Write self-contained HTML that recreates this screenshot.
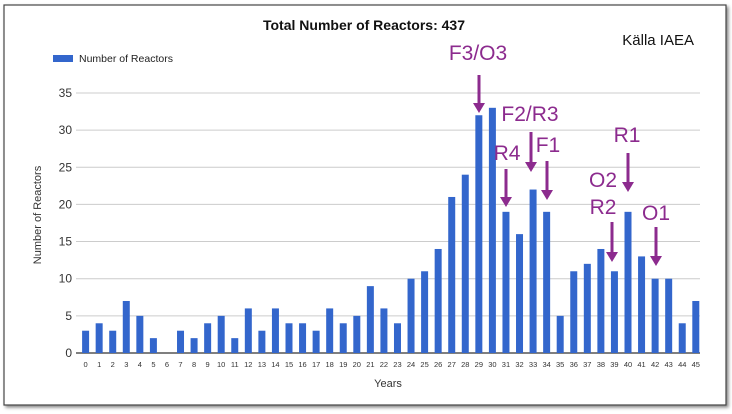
<!DOCTYPE html>
<html><head><meta charset="utf-8"><style>
html,body{margin:0;padding:0;background:#fff;width:732px;height:414px;overflow:hidden}
svg{font-family:"Liberation Sans",Arial,sans-serif}
</style></head><body>
<svg id="c" width="732" height="414">
<defs><filter id="sh" x="-5%" y="-5%" width="110%" height="110%"><feDropShadow dx="2" dy="2" stdDeviation="1.5" flood-color="#888"/></filter></defs>
<rect x="4" y="5" width="722" height="400" fill="#fff" stroke="#444" stroke-width="1.2" filter="url(#sh)"/>
<text x="364" y="30" text-anchor="middle" font-size="14" font-weight="bold" fill="#111">Total Number of Reactors: 437</text>
<rect x="53" y="55" width="20" height="7" fill="#3366cc"/>
<text x="79" y="62" font-size="10.5" fill="#222">Number of Reactors</text>
<text x="694" y="45" text-anchor="end" font-size="15" fill="#111">Källa IAEA</text>
<g id="grid"></g><g id="bars"></g><g id="xt"></g><g id="ann"></g>
<text x="388" y="387" text-anchor="middle" font-size="11" fill="#333">Years</text>
<text transform="translate(41,215) rotate(-90)" text-anchor="middle" font-size="11" fill="#333">Number of Reactors</text>
</svg>
<script>
const years=[0,1,2,3,4,5,6,7,8,9,10,11,12,13,14,15,16,17,18,19,20,21,22,23,24,25,26,27,28,29,30,31,32,33,34,35,36,37,38,39,40,41,42,43,44,45];
const reactors=[3,4,3,7,5,2,0,3,2,4,5,2,6,3,6,4,4,3,6,4,5,9,6,4,10,11,14,21,24,32,33,19,16,22,19,5,11,12,14,11,19,13,10,10,4,7];
const yTicks=[0,5,10,15,20,25,30,35];
const annLabels=["F3/O3","F2/R3","R4","F1","R1","O2","R2","O1"];
const annYears=[29,33,31,34,40,39,39,42];
const NS="http://www.w3.org/2000/svg";
const y0=353,pu=7.43,x0=85.6,step=13.56,bw=7;
const ys=v=>y0-v*pu, xs=i=>x0+i*step;
function mk(t,a,p){const e=document.createElementNS(NS,t);for(const k in a)e.setAttribute(k,a[k]);document.getElementById(p).appendChild(e);return e;}
yTicks.forEach(t=>{
  const l=mk('line',{x1:76,x2:700,y1:ys(t),y2:ys(t),stroke:t===0?'#333':'#ccc','stroke-width':t===0?1.2:1},'grid');
  
  
  const tx=mk('text',{x:72,y:ys(t)+4,'text-anchor':'end','font-size':12,fill:'#333'},'grid');tx.textContent=t;
  
  
});
reactors.forEach((v,i)=>{
  const r=mk('rect',{x:xs(i)-bw/2,y:ys(v),width:bw,height:v*pu,fill:'#3366cc'},'bars');
  
  
  const t=mk('text',{x:xs(i),y:367,'text-anchor':'middle','font-size':7.5,fill:'#333'},'xt');t.textContent=years[i];
  
  
});
// annotation arrows: [textX,textBaseline,arrowTop,arrowBottom]
const annGeom=[[478,60,75,113],[530,121,132,172],[507,160,169,207],[548,152,161,200],[627,142,153,192],[603,187,null,null],[603,214,222,262],[656,220,227,266]];
const purple='#8c2b8e';
annLabels.forEach((lab,k)=>{
  const g=annGeom[k];
  const t=mk('text',{x:g[0],y:g[1],'text-anchor':'middle','font-size':21,fill:purple},'ann');t.textContent=lab;
  
  
  if(g[2]!==null){
    const ax={29:479,33:531,31:506,34:547,40:628,39:612,42:656}[annYears[k]]||xs(annYears[k]);
    const l=mk('line',{x1:ax,x2:ax,y1:g[2],y2:g[3]-8,stroke:purple,'stroke-width':3},'ann');
    
    
    const p=mk('polygon',{points:`${ax-6},${g[3]-10} ${ax+6},${g[3]-10} ${ax},${g[3]}`,fill:purple},'ann');
    
    
  }
});
</script>
</body></html>
